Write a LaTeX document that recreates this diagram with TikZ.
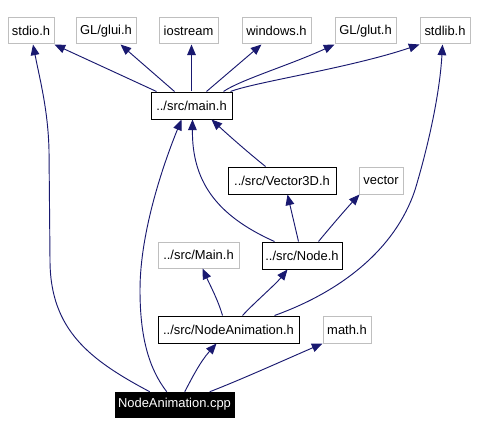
\documentclass[tikz,border=0pt]{standalone}
\usepackage{fontspec}
\setmainfont{Liberation Sans}
\usetikzlibrary{arrows.meta,calc}
\definecolor{edgec}{RGB}{25,25,112}
\definecolor{grayb}{RGB}{191,191,191}
\begin{document}
\begin{tikzpicture}[x=0.75pt,y=-0.75pt,
  every node/.style={font=\fontsize{9.7}{11}\selectfont,inner sep=0pt,align=center},
  gbox/.style={draw=grayb,line width=0.75pt,fill=white,minimum height=19.5pt},
  bbox/.style={draw=black,line width=0.75pt,fill=white,minimum height=20.25pt},
  cbox/.style={draw=black,fill=black,text=white,minimum height=18.75pt},
  edge/.style={draw=edgec,line width=0.7pt,-{Triangle[length=8pt,width=6.5pt]}}]
\useasboundingbox (0,0) rectangle (478,435);
\fill[white] (0,0) rectangle (478,435);
% nodes
\node[gbox,minimum width=34.5pt] (stdio) at (31,31) {stdio.h};
\node[gbox,minimum width=45pt] (glui) at (106,31) {GL/glui.h};
\node[gbox,minimum width=44.25pt] (iostream) at (188.5,31) {iostream};
\node[gbox,minimum width=51.75pt] (windows) at (276.5,31) {windows.h};
\node[gbox,minimum width=45.75pt] (glut) at (365.5,31) {GL/glut.h};
\node[gbox,minimum width=37.5pt] (stdlib) at (445,31) {stdlib.h};
\node[bbox,minimum width=60.75pt] (main) at (191.5,105.5) {../src/main.h};
\node[bbox,minimum width=81pt] (vec) at (282,180.5) {../src/Vector3D.h};
\node[gbox,minimum width=33pt,minimum height=20.25pt] (vector) at (381,180.5) {vector};
\node[gbox,minimum width=60.75pt] (Main) at (198.5,255) {../src/Main.h};
\node[bbox,minimum width=60pt] (node) at (302,255.5) {../src/Node.h};
\node[bbox,minimum width=105.75pt] (na) at (228.5,329.5) {../src/NodeAnimation.h};
\node[gbox,minimum width=36pt,minimum height=20.25pt] (math) at (347,329.5) {math.h};
\node[cbox,minimum width=89.25pt] (cpp) at (174.5,404.5) {NodeAnimation.cpp};
% edges from main.h
\draw[edge] ($(main.north west)+(6,0)$) -- (stdio.south east);
\draw[edge] ($(main.north west)+(24,0)$) -- ($(glui.south west)+(45,0)$);
\draw[edge] (main.north) -- (iostream.south -| main.north);
\draw[edge] ($(main.north west)+(56,0)$) -- ($(windows.south west)+(20,0)$);
\draw[edge] ($(main.north west)+(73,0)$) .. controls (240,80) and (290,65) .. (glut.south west);
\draw[edge] ($(main.north east)+(-2,0)$) .. controls (255,82) and (350,68) .. (stdlib.south west);
% edges into main.h
\draw[edge] ($(cpp.north west)+(52,0)$) .. controls (150,370) and (140,340) .. (140,290)
  .. controls (140,230) and (165,160) .. ($(main.south west)+(31,0)$);
\draw[edge] ($(node.north west)+(13,0)$) .. controls (215,215) and (192,180) .. ($(main.south west)+(42,0)$);
\draw[edge] ($(vec.north west)+(38,0)$) .. controls (245,150) and (225,132) .. ($(main.south west)+(61,0)$);
% cpp to stdio
\draw[edge] ($(cpp.north west)+(35,0)$) .. controls (90,360) and (50,330) .. (50,260)
  -- (49,150) .. controls (48,110) and (40,80) .. ($(stdio.south)+(2,0)$);
% node edges
\draw[edge] ($(node.north west)+(37,0)$) -- ($(vec.south west)+(60,0)$);
\draw[edge] ($(node.north west)+(57,0)$) .. controls (328,230) and (345,210) .. ($(vector.south west)+(1,0)$);
% NodeAnimation.h edges
\draw[edge] ($(na.north west)+(65,0)$) .. controls (218,300) and (210,285) .. ($(Main.south west)+(45,0)$);
\draw[edge] ($(na.north west)+(85,0)$) .. controls (255,302) and (275,285) .. ($(node.south west)+(26,0)$);
\draw[edge] ($(na.north west)+(117,0)$) .. controls (340,292) and (395,250) .. (415,190)
  .. controls (430,140) and (440,90) .. ($(stdlib.south west)+(23,0)$);
% cpp edges
\draw[edge] ($(cpp.north west)+(70,0)$) .. controls (192,378) and (200,362) .. ($(na.south west)+(59,0)$);
\draw[edge] ($(cpp.north west)+(95,0)$) .. controls (240,380) and (280,362) .. (math.south west);
\end{tikzpicture}
\end{document}
